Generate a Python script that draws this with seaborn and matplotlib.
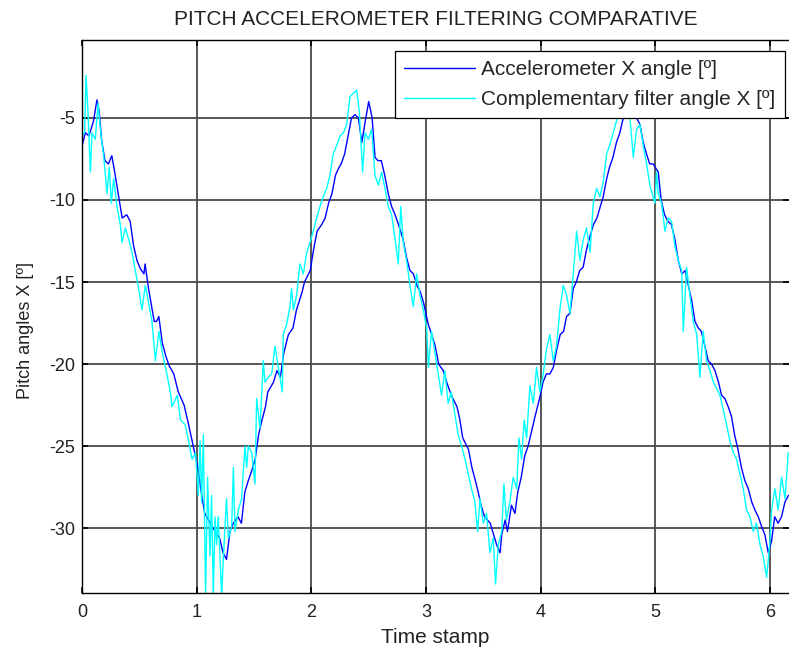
import matplotlib
matplotlib.use("Agg")
import matplotlib.pyplot as plt
import seaborn as sns

# Accelerometer X angle (blue)
accel_t = [0.00, 0.03, 0.06, 0.10, 0.13, 0.15, 0.17, 0.20, 0.23, 0.26,
           0.29, 0.32, 0.35, 0.39, 0.42, 0.45, 0.48, 0.51, 0.54, 0.55,
           0.58, 0.63, 0.65, 0.67, 0.70, 0.73, 0.76, 0.80, 0.84, 0.89,
           0.93, 0.97,
           1.01, 1.04, 1.07, 1.12, 1.16, 1.20, 1.23, 1.26, 1.29, 1.32,
           1.36, 1.39, 1.42, 1.45, 1.48, 1.51, 1.54, 1.57, 1.60, 1.62,
           1.67, 1.70, 1.73, 1.76, 1.80, 1.84, 1.87, 1.92, 1.94,
           1.99, 2.02, 2.05, 2.09, 2.12, 2.15, 2.18, 2.21, 2.235, 2.26,
           2.29, 2.32, 2.35, 2.38, 2.41, 2.44, 2.47, 2.50, 2.53, 2.555,
           2.58, 2.61, 2.64, 2.67, 2.70, 2.73, 2.76, 2.80, 2.83, 2.86,
           2.89, 2.92, 2.95, 2.98,
           3.02, 3.05, 3.08, 3.11, 3.15, 3.18, 3.22, 3.27, 3.295, 3.32,
           3.37, 3.40, 3.43, 3.455, 3.48, 3.51, 3.56, 3.59, 3.615, 3.645,
           3.66, 3.69, 3.71, 3.745, 3.775, 3.80, 3.83, 3.86, 3.89, 3.92,
           3.95, 3.99,
           4.02, 4.05, 4.08, 4.11, 4.14, 4.17, 4.20, 4.225, 4.255, 4.284,
           4.31, 4.34, 4.37, 4.40, 4.43, 4.46, 4.49, 4.52, 4.545, 4.575,
           4.60, 4.63, 4.66, 4.69, 4.72, 4.76, 4.81, 4.836, 4.865, 4.894,
           4.923, 4.95, 4.98,
           5.025, 5.05, 5.08, 5.11, 5.14, 5.17, 5.20, 5.23, 5.26, 5.287,
           5.316, 5.345, 5.374, 5.40, 5.432, 5.46, 5.49, 5.52, 5.55, 5.577,
           5.606, 5.635, 5.664, 5.69, 5.72, 5.75, 5.78, 5.81, 5.84, 5.868,
           5.897, 5.926, 5.955, 5.984, 6.013, 6.04, 6.07, 6.10, 6.13, 6.16]
accel_x = [-6.7, -5.9, -6.1, -5.2, -3.9, -4.6, -6.3, -7.6, -7.8, -7.3,
           -8.5, -9.8, -11.1, -10.9, -11.3, -12.8, -13.7, -14.2, -14.5, -13.9,
           -15.4, -17.4, -17.4, -17.1, -18.7, -19.5, -20.1, -20.6, -21.7, -22.5,
           -23.7, -25.0,
           -26.3, -27.8, -29.1, -29.7, -30.2, -30.6, -31.5, -31.9, -30.2, -29.7,
           -29.3, -29.7, -27.8, -27.1, -26.5, -25.8, -24.3, -23.4, -22.6, -21.7,
           -21.1, -20.4, -20.8, -19.3, -18.2, -17.8, -16.7, -15.6, -15.0,
           -14.3, -13.0, -11.9, -11.5, -11.1, -10.2, -9.6, -8.5, -8.1, -7.8,
           -7.2, -6.1, -5.0, -4.8, -5.0, -6.5, -5.2, -4.0, -5.0, -7.4,
           -7.6, -7.6, -8.5, -9.6, -10.4, -10.9, -11.5, -12.4, -13.5, -14.3,
           -14.5, -15.2, -15.6, -16.3,
           -17.6, -18.2, -18.9, -20.0, -20.4, -21.1, -21.9, -22.6, -23.4, -24.5,
           -25.2, -26.3, -27.1, -27.8, -28.6, -29.3, -29.7, -30.4, -31.0, -31.5,
           -30.4, -29.5, -30.2, -28.6, -29.1, -27.8, -26.9, -25.6, -25.0, -24.1,
           -23.2, -22.1,
           -21.1, -20.6, -20.6, -20.2, -19.1, -18.2, -18.0, -17.1, -16.9, -15.4,
           -15.0, -14.3, -14.1, -13.0, -12.2, -11.5, -11.1, -10.4, -9.8, -8.7,
           -8.0, -7.4, -6.5, -5.9, -5.0, -4.3, -4.6, -5.0, -5.4, -6.5,
           -7.2, -7.8, -7.8,
           -8.3, -10.0, -10.9, -11.3, -11.5, -12.4, -13.7, -14.5, -14.3, -15.2,
           -16.1, -17.4, -17.8, -18.0, -18.9, -19.8, -20.0, -20.4, -21.1, -21.9,
           -22.1, -22.6, -23.2, -24.3, -25.2, -26.3, -27.1, -27.6, -28.4, -28.9,
           -29.3, -29.9, -30.4, -31.5, -30.8, -29.3, -29.7, -29.3, -28.4, -28.0]

# Complementary filter angle X (cyan)
comp_t = [0.00, 0.023, 0.035, 0.052, 0.073, 0.087, 0.116, 0.14, 0.16, 0.19,
          0.218, 0.238, 0.256, 0.276, 0.305, 0.334, 0.349, 0.378, 0.407, 0.436,
          0.465, 0.494, 0.523, 0.552, 0.581, 0.61, 0.64, 0.67, 0.70, 0.74,
          0.77, 0.785, 0.83, 0.86, 0.90, 0.93, 0.96, 0.99,
          1.014, 1.03, 1.043, 1.058, 1.078, 1.095, 1.116, 1.13, 1.145, 1.16,
          1.174, 1.188, 1.218, 1.232, 1.26, 1.276, 1.305, 1.32, 1.334, 1.363,
          1.392, 1.421, 1.436, 1.45, 1.48, 1.508, 1.523, 1.552, 1.581, 1.595,
          1.625, 1.654, 1.683, 1.712, 1.747, 1.755, 1.784, 1.813, 1.828, 1.843,
          1.872, 1.90, 1.93, 1.959, 1.988,
          2.017, 2.046, 2.075, 2.104, 2.133, 2.162, 2.19, 2.22, 2.25, 2.28,
          2.308, 2.337, 2.366, 2.395, 2.418, 2.447, 2.468, 2.497, 2.526, 2.555,
          2.584, 2.613, 2.642, 2.671, 2.70, 2.73, 2.758, 2.779, 2.802, 2.83,
          2.86, 2.889, 2.918, 2.947, 2.976, 3.005,
          3.02, 3.048, 3.077, 3.106, 3.135, 3.164, 3.193, 3.22, 3.25, 3.28,
          3.31, 3.34, 3.368, 3.397, 3.426, 3.45, 3.47, 3.499, 3.528, 3.557,
          3.586, 3.606, 3.63, 3.66, 3.679, 3.70, 3.731, 3.76, 3.79, 3.81,
          3.833, 3.856, 3.877, 3.906, 3.935, 3.964, 3.993,
          4.022, 4.05, 4.08, 4.109, 4.138, 4.167, 4.196, 4.225, 4.255, 4.284,
          4.313, 4.342, 4.371, 4.40, 4.43, 4.458, 4.487, 4.516, 4.545, 4.574,
          4.60, 4.632, 4.66, 4.69, 4.734, 4.778, 4.807, 4.836, 4.865, 4.894,
          4.923, 4.952, 4.98, 4.996,
          5.01, 5.025, 5.054, 5.083, 5.112, 5.141, 5.17, 5.20, 5.229, 5.243,
          5.272, 5.301, 5.33, 5.36, 5.388, 5.417, 5.446, 5.476, 5.505, 5.534,
          5.563, 5.592, 5.621, 5.65, 5.68, 5.708, 5.737, 5.766, 5.795, 5.824,
          5.853, 5.882, 5.912, 5.94, 5.97, 5.999, 6.013, 6.042, 6.07, 6.10,
          6.13, 6.159]
comp_x = [-6.1, -5.9, -2.4, -4.6, -8.3, -5.9, -6.3, -4.1, -5.7, -7.4,
          -9.6, -8.0, -10.2, -8.7, -10.4, -11.5, -12.6, -11.7, -12.4, -13.2,
          -14.3, -15.4, -16.7, -15.2, -16.3, -17.4, -19.8, -18.0, -19.3, -20.6,
          -21.7, -22.6, -21.9, -23.4, -23.7, -24.7, -25.8, -25.4,
          -28.0, -24.7, -28.4, -24.3, -34.1, -26.9, -31.7, -28.0, -34.1, -29.3,
          -31.0, -29.3, -34.1, -31.9, -28.2, -30.6, -29.9, -26.3, -30.2, -28.9,
          -28.2, -25.0, -26.3, -25.0, -25.4, -27.3, -22.1, -23.9, -19.8, -21.1,
          -20.8, -20.6, -18.9, -20.2, -21.7, -18.2, -17.6, -16.5, -15.4, -16.7,
          -15.8, -13.9, -14.5, -13.2, -12.6,
          -11.9, -11.1, -10.4, -9.8, -9.3, -8.5, -7.2, -6.7, -6.1, -5.9,
          -5.4, -3.7, -3.5, -3.3, -4.6, -8.3, -5.9, -6.3, -5.7, -8.5,
          -9.1, -8.3, -9.3, -10.4, -10.9, -12.4, -13.9, -10.4, -12.6, -13.7,
          -15.2, -16.5, -14.5, -15.8, -16.7, -17.8,
          -20.2, -18.0, -19.3, -20.6, -21.9, -20.4, -22.4, -21.7, -23.0, -24.3,
          -25.0, -25.8, -26.7, -27.6, -28.4, -30.2, -28.2, -29.7, -29.1, -31.5,
          -30.6, -33.4, -31.0, -30.2, -27.3, -29.5, -28.4, -26.9, -27.6, -24.5,
          -25.8, -23.4, -24.5, -21.3, -22.4, -20.2, -21.7,
          -20.6, -19.1, -18.2, -19.8, -18.9, -16.7, -15.2, -15.8, -16.9, -14.5,
          -11.9, -13.7, -12.4, -11.7, -13.2, -10.2, -9.3, -9.8, -8.9, -7.2,
          -6.7, -5.9, -5.2, -4.6, -3.7, -5.0, -7.4, -5.7, -5.4, -6.7,
          -7.8, -9.1, -9.8, -10.2,
          -8.3, -9.6, -10.2, -11.9, -11.1, -11.3, -12.8, -13.7, -14.3, -18.0,
          -14.1, -15.8, -17.4, -18.2, -20.8, -18.0, -19.8, -20.4, -21.1, -21.5,
          -21.9, -22.8, -23.7, -24.7, -25.4, -25.8, -26.7, -27.6, -28.9, -29.3,
          -30.2, -29.7, -31.0, -31.7, -33.0, -30.8, -28.9, -27.6, -28.9, -26.9,
          -28.2, -25.4]

x_ticks = [0, 1, 2, 3, 4, 5, 6]
y_ticks = [-30, -25, -20, -15, -10, -5]

sns.set_style("white")
plt.rcParams["font.family"] = ["Liberation Sans", "DejaVu Sans"]
plt.rcParams["axes.unicode_minus"] = False

fig = plt.figure(figsize=(7.89, 6.55), dpi=100)
ax = fig.add_axes([82 / 789, 62 / 655, 707 / 789, 553 / 655])

sns.lineplot(x=accel_t, y=accel_x, color="#0000ff", linewidth=1.0,
             label="Accelerometer X angle [º]", sort=False, estimator=None, ax=ax)
sns.lineplot(x=comp_t, y=comp_x, color="#00ffff", linewidth=1.0,
             label="Complementary filter angle X [º]", sort=False, estimator=None, ax=ax)

ax.set_xlim(0, 6.165)
ax.set_ylim(-33.95, -0.25)
ax.set_xticks(x_ticks)
ax.set_yticks(y_ticks)
ax.grid(True, color="#4a4a4a", linewidth=1.3)
ax.tick_params(direction="in", length=4, width=1.2, colors="black",
               labelsize=13, labelcolor="#222222", top=True, right=True,
               bottom=True, left=True)
ax.tick_params(axis="x", pad=8)
ax.tick_params(axis="y", pad=5)
for side in ["left", "bottom", "top"]:
    ax.spines[side].set_color("black")
    ax.spines[side].set_linewidth(1.0)
ax.spines["right"].set_visible(False)

ax.set_title("PITCH ACCELEROMETER FILTERING COMPARATIVE", fontsize=15,
             color="#222222", pad=11)
ax.set_xlabel("Time stamp", fontsize=15, color="#222222", labelpad=5)
ax.set_ylabel("Pitch angles X [º]", fontsize=13, color="#222222")
ax.yaxis.set_label_coords(-0.068, 0.475)

leg = ax.legend(loc="upper right", bbox_to_anchor=(0.994, 0.98), fontsize=15,
                frameon=True, fancybox=False, framealpha=1.0, edgecolor="black",
                handlelength=3.4, handletextpad=0.3, borderpad=0.45,
                labelspacing=0.5, borderaxespad=0)
leg.get_frame().set_linewidth(0.9)

fig.savefig("out.png", dpi=100)
